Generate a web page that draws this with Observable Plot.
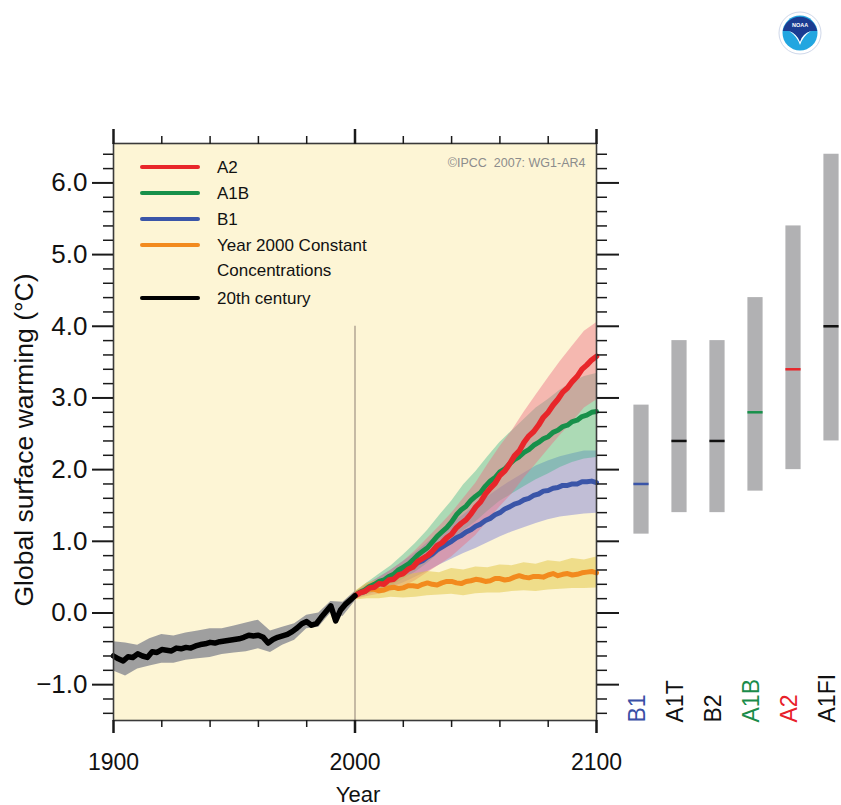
<!DOCTYPE html>
<html>
<head>
<meta charset="utf-8">
<script src="https://cdn.jsdelivr.net/npm/d3@7"></script>
<script src="https://cdn.jsdelivr.net/npm/@observablehq/plot@0.6"></script>
<style>
  body { margin: 0; background: #fff; font-family: 'Liberation Sans', Arial, Helvetica, sans-serif; }
  #wrap { position: relative; width: 841px; height: 805px; overflow: hidden; background: #fff; }
  #main, #side { position: absolute; top: 0; }
  #main { left: 0; width: 841px; }
  #side { left: 600px; width: 260px; }
  #main svg, #side svg { max-width: none; }
  .sw { position: absolute; left: 140px; width: 60px; height: 4px; border-radius: 2px; }
  .lt { position: absolute; left: 217px; font-size: 17px; line-height: 25px; color: #111; white-space: nowrap; }
  #ylabel { position: absolute; left: 24px; top: 440px; transform: translate(-50%, -50%) rotate(-90deg);
            font-size: 26.5px; color: #111; white-space: nowrap; }
</style>
</head>
<body>
<div id="wrap">
  <div id="main"></div>
  <div id="side"></div>
  <div id="legend"></div>
  <div id="ylabel">Global surface warming (°C)</div>
  <svg id="noaa" width="46" height="46" viewBox="-23 -23 46 46" style="position:absolute;left:777px;top:10px">
    <circle r="21" fill="#fff" stroke="#cfd8ea" stroke-width="1"/>
    <circle r="17.5" fill="#22a6e0"/>
    <path d="M-17.2,-2 A17.5,17.5 0 0 1 17.2,-2 L11,-2 Q2,1 0,9 Q-3,1 -11,-2 Z" fill="#1b3c92"/>
    <path d="M-11,-2 Q-3,1 0,9 Q2,1 11,-2 Q3,3 0,12 Q-3,3 -11,-2 Z" fill="#fff"/>
    <text x="0" y="-6" font-size="5.5" fill="#fff" text-anchor="middle" font-weight="bold" font-family="Liberation Sans, Arial">NOAA</text>
  </svg>
</div>
<script>
// ---------- 20th century (simulated, multi-model mean) ----------
const histYears = d3.range(1900, 2001, 2);
const histMean = [-0.60,-0.64,-0.67,-0.61,-0.62,-0.57,-0.60,-0.62,-0.54,-0.55,
                  -0.51,-0.52,-0.53,-0.49,-0.50,-0.48,-0.49,-0.46,-0.44,-0.43,
                  -0.41,-0.42,-0.40,-0.39,-0.38,-0.37,-0.36,-0.34,-0.31,-0.32,
                  -0.31,-0.34,-0.42,-0.37,-0.34,-0.32,-0.30,-0.26,-0.21,-0.15,
                  -0.12,-0.17,-0.15,-0.06, 0.02, 0.10,-0.11, 0.04, 0.12, 0.18, 0.24];
const histBandYears = d3.range(1900, 2001, 5);
const histHi = [-0.40,-0.42,-0.45,-0.36,-0.30,-0.32,-0.28,-0.25,-0.22,-0.22,-0.18,
                -0.14,-0.10,-0.25,-0.20,-0.15,-0.03, 0.00, 0.16, 0.15, 0.30];
const histLo = [-0.81,-0.88,-0.78,-0.74,-0.70,-0.70,-0.66,-0.64,-0.62,-0.58,-0.56,
                -0.54,-0.50,-0.55,-0.45,-0.38,-0.22,-0.20, 0.00,-0.05, 0.16];

// ---------- 21st century projections (multi-model means) ----------
const projYears = d3.range(2000, 2101, 2);
const a2 = [0.24,0.28,0.30,0.35,0.36,0.41,0.40,0.46,0.47,0.53,
            0.55,0.61,0.64,0.72,0.76,0.80,0.86,0.94,0.98,1.05,
            1.10,1.19,1.25,1.30,1.38,1.48,1.55,1.66,1.74,1.81,
            1.92,1.98,2.08,2.19,2.26,2.38,2.47,2.53,2.62,2.73,
            2.80,2.90,2.98,3.08,3.14,3.23,3.30,3.40,3.46,3.53,3.58];
const a1b = [0.24,0.29,0.32,0.37,0.40,0.44,0.46,0.51,0.54,0.60,
             0.64,0.68,0.74,0.81,0.86,0.91,0.99,1.07,1.13,1.19,
             1.27,1.37,1.44,1.49,1.57,1.63,1.68,1.77,1.84,1.89,
             1.97,2.01,2.08,2.14,2.18,2.24,2.28,2.34,2.38,2.43,
             2.46,2.52,2.55,2.60,2.62,2.67,2.69,2.74,2.76,2.80,2.81];
const b1 = [0.24,0.28,0.30,0.35,0.37,0.41,0.43,0.48,0.50,0.55,
            0.57,0.62,0.65,0.70,0.73,0.78,0.82,0.88,0.92,0.96,
            1.00,1.05,1.08,1.13,1.16,1.21,1.24,1.29,1.32,1.37,
            1.40,1.45,1.48,1.52,1.54,1.58,1.60,1.64,1.66,1.70,
            1.71,1.74,1.75,1.78,1.78,1.80,1.80,1.83,1.83,1.84,1.82];
const comm = [0.24,0.29,0.30,0.33,0.33,0.31,0.32,0.35,0.36,0.34,
              0.35,0.38,0.38,0.37,0.40,0.42,0.40,0.39,0.42,0.44,
              0.44,0.42,0.41,0.44,0.45,0.47,0.46,0.44,0.45,0.48,
              0.48,0.46,0.47,0.50,0.52,0.50,0.49,0.51,0.51,0.50,
              0.53,0.55,0.52,0.54,0.55,0.53,0.54,0.56,0.57,0.58,0.56];

// ---------- ±1 standard deviation ranges ----------
const bandYears = d3.range(2000, 2101, 5);
const a2Hi   = [0.29,0.40,0.49,0.60,0.72,0.87,1.04,1.21,1.39,1.60,1.81,2.07,2.32,2.54,2.80,3.04,3.28,3.51,3.72,3.93,4.05];
const a2Lo   = [0.19,0.23,0.26,0.30,0.36,0.45,0.56,0.67,0.78,0.93,1.08,1.28,1.48,1.66,1.88,2.08,2.28,2.48,2.66,2.86,2.97];
const a1bHi  = [0.29,0.42,0.54,0.66,0.81,0.97,1.15,1.36,1.56,1.79,1.97,2.18,2.38,2.54,2.70,2.86,2.98,3.11,3.22,3.30,3.34];
const a1bLo  = [0.19,0.26,0.32,0.38,0.47,0.57,0.69,0.84,0.98,1.15,1.27,1.42,1.56,1.66,1.76,1.86,1.94,2.03,2.10,2.15,2.17];
const b1Hi   = [0.29,0.39,0.50,0.60,0.72,0.84,0.98,1.11,1.25,1.37,1.50,1.62,1.74,1.85,1.95,2.05,2.12,2.18,2.22,2.26,2.26];
const b1Lo   = [0.19,0.25,0.30,0.36,0.42,0.50,0.58,0.67,0.75,0.83,0.90,0.98,1.06,1.13,1.19,1.25,1.30,1.34,1.36,1.38,1.39];
const commHi = [0.30,0.42,0.46,0.50,0.52,0.55,0.58,0.56,0.62,0.60,0.64,0.63,0.67,0.66,0.70,0.68,0.73,0.71,0.76,0.74,0.78];
const commLo = [0.18,0.20,0.20,0.22,0.21,0.22,0.24,0.25,0.26,0.24,0.27,0.28,0.28,0.30,0.31,0.30,0.32,0.33,0.34,0.34,0.35];

// ---------- Likely ranges at 2090-2099 (right panel) ----------
const scenarios   = ["B1","A1T","B2","A1B","A2","A1FI"];
const scenLow     = [1.1, 1.4, 1.4, 1.7, 2.0, 2.4];
const scenHigh    = [2.9, 3.8, 3.8, 4.4, 5.4, 6.4];
const scenBest    = [1.8, 2.4, 2.4, 2.8, 3.4, 4.0];
const scenLine    = ["#3a55a8","#111111","#111111","#17904a","#e8262a","#111111"];
const scenLabel   = ["#3a50a6","#111111","#111111","#1a8c4a","#e8202a","#111111"];

// ---------- legend ----------
const legendLabels = ["A2","A1B","B1","Year 2000 Constant<br>Concentrations","20th century"];
const legendColors = ["#e8262a","#17904a","#3a55a8","#f28a1e","#000000"];

// ---------- axes ----------
const yMajor = [-1,0,1,2,3,4,5,6];
const yMinor = [-1.4,-1.2,-0.8,-0.6,-0.4,-0.2,0.2,0.4,0.6,0.8,1.2,1.4,1.6,1.8,2.2,2.4,2.6,2.8,3.2,3.4,3.6,3.8,
                4.2,4.4,4.6,4.8,5.2,5.4,5.6,5.8,6.2,6.4];
const xMajor = [1900,2000,2100];
const xMinor = [1920,1940,1960,1980,2020,2040,2060,2080];
const divider = {year: 2000, top: 4.0};

const histData = histYears.map((y,i)=>({year:y, v:histMean[i]}));
const histBand = histBandYears.map((y,i)=>({year:y, lo:histLo[i], hi:histHi[i]}));
const mk = arr => projYears.map((y,i)=>({year:y, v:arr[i]}));
const mkb = (lo,hi) => bandYears.map((y,i)=>({year:y, lo:lo[i], hi:hi[i]}));

const font = "'Liberation Sans', Arial, Helvetica, sans-serif";
const yDomain = [-1.5, 6.55];
const blank = () => "";

const main = Plot.plot({
  width: 841, height: 805,
  marginLeft: 113, marginRight: 245, marginTop: 143, marginBottom: 85,
  x: {domain: [1900, 2100]},
  y: {domain: yDomain},
  style: {fontFamily: font, background: "transparent", overflow: "visible", color: "#111"},
  marks: [
    Plot.frame({fill: "#fdf5d5", stroke: null}),
    Plot.ruleX([divider], {x: "year", y1: yDomain[0], y2: "top", stroke: "#a8998a", strokeWidth: 1.3}),
    Plot.areaY(mkb(b1Lo, b1Hi), {x: "year", y1: "lo", y2: "hi", fill: "#6e72d8", fillOpacity: 0.42}),
    Plot.areaY(mkb(a1bLo, a1bHi), {x: "year", y1: "lo", y2: "hi", fill: "#3cb48a", fillOpacity: 0.42}),
    Plot.areaY(mkb(a2Lo, a2Hi), {x: "year", y1: "lo", y2: "hi", fill: "#ec6e82", fillOpacity: 0.45}),
    Plot.areaY(mkb(commLo, commHi), {x: "year", y1: "lo", y2: "hi", fill: "#e2c540", fillOpacity: 0.5}),
    Plot.areaY(histBand, {x: "year", y1: "lo", y2: "hi", fill: "#9a9a9c", fillOpacity: 0.95}),
    Plot.line(mk(comm), {x: "year", y: "v", stroke: "#f28a1e", strokeWidth: 5, strokeLinejoin: "round"}),
    Plot.line(mk(b1), {x: "year", y: "v", stroke: "#3a55a8", strokeWidth: 5, strokeLinejoin: "round"}),
    Plot.line(mk(a1b), {x: "year", y: "v", stroke: "#17904a", strokeWidth: 5, strokeLinejoin: "round"}),
    Plot.line(mk(a2), {x: "year", y: "v", stroke: "#e8262a", strokeWidth: 5.5, strokeLinejoin: "round"}),
    Plot.line(histData, {x: "year", y: "v", stroke: "#000", strokeWidth: 5.5, strokeLinejoin: "round"}),
    Plot.frame({stroke: "#3a3a3a", strokeWidth: 1.6}),
    Plot.axisY({anchor: "left", ticks: yMajor, tickSize: 21, tickPadding: 5, tickFormat: d3.format(".1f"), fontSize: 26, label: null, stroke: "#1a1a1a", strokeWidth: 2}),
    Plot.axisY({anchor: "left", ticks: yMinor, tickSize: 10, tickFormat: blank, label: null, stroke: "#1a1a1a", strokeWidth: 1.5}),
    Plot.axisY({anchor: "right", ticks: yMajor, tickSize: 22, tickFormat: blank, label: null, stroke: "#1a1a1a", strokeWidth: 2}),
    Plot.axisY({anchor: "right", ticks: yMinor, tickSize: 10, tickFormat: blank, label: null, stroke: "#1a1a1a", strokeWidth: 1.5}),
    Plot.axisX({anchor: "top", ticks: xMajor, tickSize: 15, tickFormat: blank, label: null, stroke: "#1a1a1a", strokeWidth: 2.5}),
    Plot.axisX({anchor: "top", ticks: xMinor, tickSize: 8, tickFormat: blank, label: null, stroke: "#1a1a1a", strokeWidth: 1.5}),
    Plot.axisX({anchor: "bottom", ticks: xMajor, tickSize: 13, tickPadding: 20, tickFormat: d3.format("d"), fontSize: 23, label: null, stroke: "#1a1a1a", strokeWidth: 2.5}),
    Plot.axisX({anchor: "bottom", ticks: xMinor, tickSize: 7, tickFormat: blank, label: null, stroke: "#1a1a1a", strokeWidth: 1.5}),
    Plot.text(["©IPCC  2007: WG1-AR4"], {text: d => d, frameAnchor: "top-right", dx: -11, dy: 15, textAnchor: "end", fill: "#8c8c8c", fontSize: 12.5}),
    Plot.text(["Year"], {text: d => d, frameAnchor: "bottom", dx: 3, dy: 81, fontSize: 22, fill: "#111"})
  ]
});
document.getElementById("main").appendChild(main);

const scenData = scenarios.map((s,i)=>({name:s, low:scenLow[i], high:scenHigh[i], best:scenBest[i], lineColor:scenLine[i], labelColor:scenLabel[i]}));
const side = Plot.plot({
  width: 260, height: 805,
  marginLeft: 19.5, marginRight: 7.5, marginTop: 143, marginBottom: 85,
  x: {type: "band", domain: scenarios, padding: 0, axis: null},
  y: {domain: yDomain, axis: null},
  color: {type: "identity"},
  style: {fontFamily: font, background: "transparent", overflow: "visible", maxWidth: "none"},
  marks: [
    Plot.barY(scenData, {x: "name", y1: "low", y2: "high", fill: "#b1b1b3", insetLeft: 11.4, insetRight: 11.4}),
    Plot.tickY(scenData, {x: "name", y: "best", stroke: "lineColor", strokeWidth: 2.5, insetLeft: 11.4, insetRight: 11.4}),
    Plot.text(scenData, {x: "name", text: "name", frameAnchor: "bottom", rotate: -90, textAnchor: "start", fill: "labelColor", fontSize: 23, dx: 3, dy: 2})
  ]
});
document.getElementById("side").appendChild(side);

// legend (HTML)
const legendCenters = [167, 193, 219, 245, 298];
const leg = document.getElementById("legend");
legendLabels.forEach((lab, i) => {
  const c = legendCenters[i];
  const sw = document.createElement("div");
  sw.className = "sw"; sw.style.top = (c - 2) + "px"; sw.style.background = legendColors[i];
  leg.appendChild(sw);
  const t = document.createElement("div");
  t.className = "lt"; t.style.top = (c - 12.5) + "px"; t.innerHTML = lab;
  leg.appendChild(t);
});
</script>
</body>
</html>
